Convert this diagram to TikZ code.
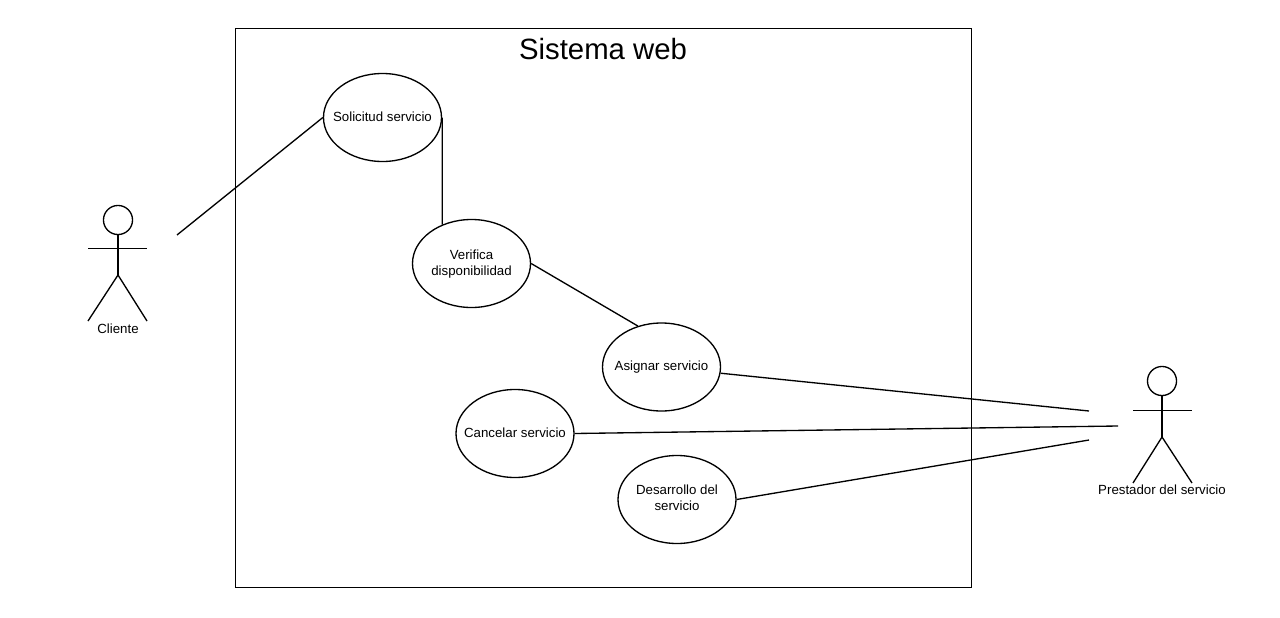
\documentclass[tikz,border=0pt]{standalone}
\usepackage{fontspec}
\setmainfont{Liberation Sans}
\usetikzlibrary{shapes.geometric}
\tikzset{
 uc/.style={draw=black,line width=1pt,ellipse,minimum width=88.5pt,minimum height=66pt,inner sep=0pt},
 uctext/.style={align=center,font=\fontsize{9.95}{12}\selectfont},
 lnk/.style={draw=black,line width=1pt},
 thin lnk/.style={draw=black,line width=0.8pt},
 lbl/.style={font=\fontsize{9.95}{12}\selectfont},
}
\begin{document}
\begin{tikzpicture}[x=0.75pt,y=-0.75pt]
\useasboundingbox (0,0) rectangle (1280,617);
\node[draw=black,line width=0.75pt,minimum width=552pt,minimum height=418.5pt,inner sep=0pt] (sys) at (603.2,308) {};
\node[font=\fontsize{22}{26}\selectfont] (title) at (603,49) {Sistema web};
\coordinate (c1) at (177,235);
\coordinate (p1) at (1089,411);
\coordinate (p2) at (1118,426);
\coordinate (p3) at (1089,440);
\node[uc,label={[uctext,yshift=0.75pt]center:Solicitud servicio}] (a) at (382.5,117.5) {};
\node[uc,label={[uctext,yshift=-0.75pt]center:Verifica\\disponibilidad}] (b) at (471.5,263.5) {};
\node[uc,label={[uctext]center:Asignar servicio}] (c) at (661.5,367) {};
\node[uc,label={[uctext,yshift=0.75pt]center:Cancelar servicio}] (d) at (515,433.5) {};
\node[uc,label={[uctext,yshift=1.2pt]center:Desarrollo del\\servicio}] (e) at (677,499.5) {};
\draw[lnk] (c1) -- (a.west);
\draw[lnk] (a.east) -- (b.127.5);
\draw[lnk] (b.east) -- (c.120);
\draw[lnk] (c.-6) -- (p1);
\draw[lnk] (d.east) -- (p2);
\draw[lnk] (e.east) -- (p3);
% actors
\node[draw=black,line width=1pt,circle,minimum size=21.8pt,inner sep=0pt] (h1) at (118,220) {};
\coordinate (w1) at (118,275);
\coordinate (al1) at (88,248.7);
\coordinate (ar1) at (147,248.7);
\coordinate (fl1) at (88,321);
\coordinate (fr1) at (147,321);
\draw[lnk] (h1.south) -- (w1);
\draw[thin lnk] (al1) -- (ar1);
\draw[lnk] (fl1) -- (w1) -- (fr1);
\node[lbl] (cl) at (118,328.5) {Cliente};
\node[draw=black,line width=1pt,circle,minimum size=21.8pt,inner sep=0pt] (h2) at (1162,381) {};
\coordinate (w2) at (1162,437);
\coordinate (al2) at (1133,410.5);
\coordinate (ar2) at (1192,410.5);
\coordinate (fl2) at (1133,483);
\coordinate (fr2) at (1192,483);
\draw[lnk] (h2.south) -- (w2);
\draw[thin lnk] (al2) -- (ar2);
\draw[lnk] (fl2) -- (w2) -- (fr2);
\node[lbl] (pr) at (1162,490) {Prestador del servicio};
\end{tikzpicture}
\end{document}
